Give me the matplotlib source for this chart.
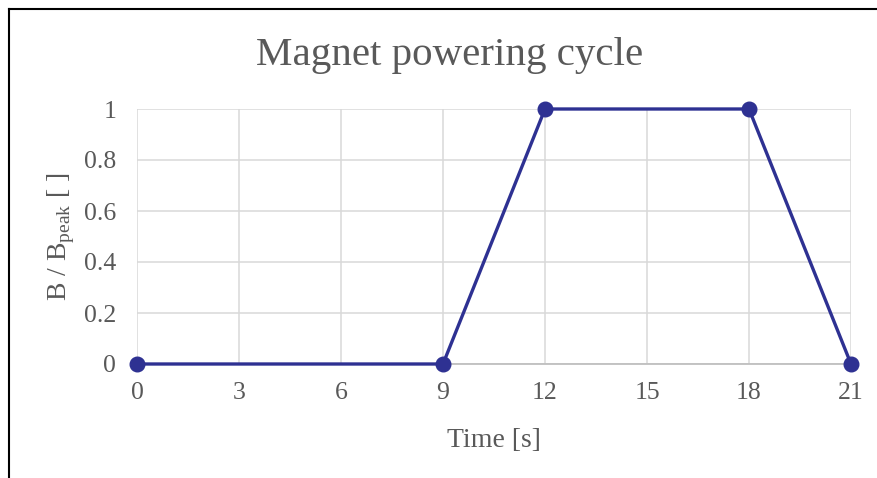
import matplotlib
matplotlib.use("Agg")
import matplotlib.pyplot as plt
from matplotlib.lines import Line2D

time_s = [0, 9, 12, 18, 21]
b_ratio = [0, 0, 1, 1, 0]
x_ticks = [0, 3, 6, 9, 12, 15, 18, 21]
y_ticks = [0, 0.2, 0.4, 0.6, 0.8, 1]
y_tick_labels = ["0", "0.2", "0.4", "0.6", "0.8", "1"]

plt.rcParams['font.family'] = ['Liberation Serif', 'DejaVu Serif']
plt.rcParams['mathtext.fontset'] = 'custom'
plt.rcParams['mathtext.rm'] = 'Liberation Serif'

txt = '#595959'
fig = plt.figure(figsize=(8.77, 4.78), dpi=100)
ax = fig.add_axes([137/877, 114/478, 714/877, 255/478])

ax.plot(time_s, b_ratio, color='#2e3192', lw=2.4, marker='o', ms=10.5,
        zorder=5, clip_on=False)
ax.set_xlim(0, 21)
ax.set_ylim(0, 1)
ax.set_xticks(x_ticks)
ax.set_xticklabels([str(v) for v in x_ticks])
ax.set_yticks(y_ticks)
ax.set_yticklabels(y_tick_labels)
ax.grid(True, color='#d9d9d9', lw=1.1)
ax.set_axisbelow(True)
for s in ['top', 'right', 'left']:
    ax.spines[s].set_visible(False)
ax.spines['bottom'].set_color('#bfbfbf')
ax.spines['bottom'].set_linewidth(1.3)
ax.tick_params(length=0, labelsize=18.5, colors=txt)
ax.tick_params(axis='x', pad=13)
ax.tick_params(axis='y', pad=15)
ax.set_xlabel('Time [s]', fontsize=20, color=txt, labelpad=17)
ax.set_ylabel(r'B / B$_\mathregular{peak}$ [ ]', fontsize=20, color=txt, labelpad=5)
fig.text(450/877, 1 - 55/478, 'Magnet powering cycle', fontsize=29.5, color=txt,
         ha='center', va='center')

# outer border
fig.add_artist(Line2D([9/877, 9/877], [0, 1 - 9/478], color='black', lw=1.5,
                      transform=fig.transFigure))
fig.add_artist(Line2D([9/877, 1], [1 - 9/478, 1 - 9/478], color='black', lw=1.5,
                      transform=fig.transFigure))

fig.savefig('out.png', dpi=100)
